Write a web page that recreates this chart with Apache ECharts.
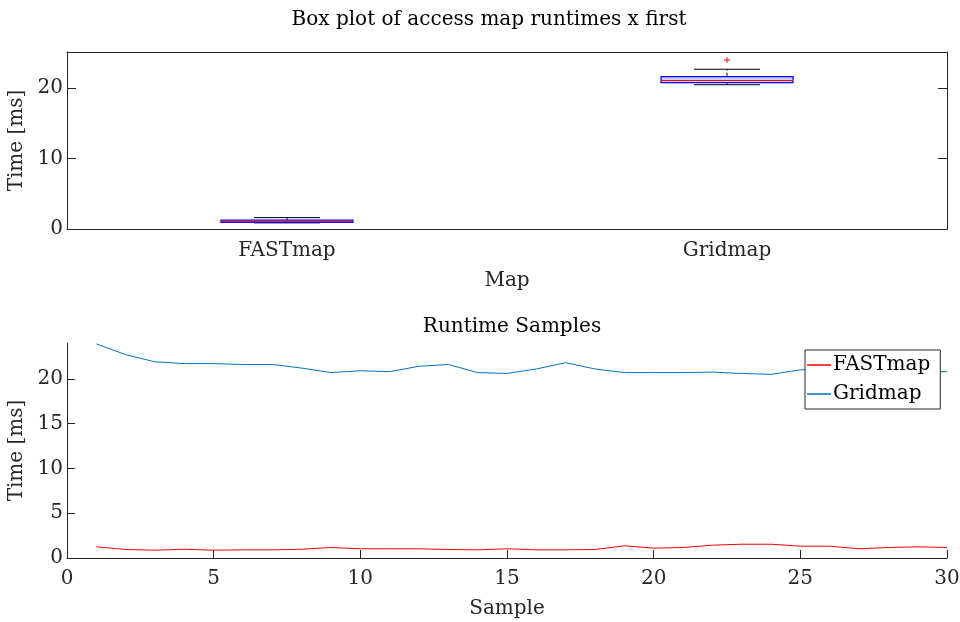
<!DOCTYPE html>
<html>
<head>
<meta charset="utf-8">
<script src="https://cdn.jsdelivr.net/npm/echarts@6/dist/echarts.min.js"></script>
<style>html,body{margin:0;padding:0;background:#fff}#c{width:960px;height:622px}</style>
</head>
<body>
<div id="c"></div>
<script>
// ---- data ----
var mapCategories = ['FASTmap', 'Gridmap'];
// box stats: [min, q1, median, q3, max]
var fastBox = [0.87, 0.95, 1.04, 1.26, 1.62];
var gridBox = [20.5, 20.8, 21.1, 21.65, 22.7];
var gridOutliers = [24.0];
var samples = [1,2,3,4,5,6,7,8,9,10,11,12,13,14,15,16,17,18,19,20,21,22,23,24,25,26,27,28,29,30];
var fastTimes = [1.25, 0.95, 0.87, 0.98, 0.87, 0.91, 0.91, 0.98, 1.17, 1.03, 1.03, 1.03, 0.95, 0.91, 1.03,
                 0.91, 0.91, 0.95, 1.36, 1.10, 1.17, 1.43, 1.54, 1.54, 1.32, 1.32, 1.03, 1.17, 1.25, 1.17];
var gridTimes = [23.9, 22.7, 21.9, 21.7, 21.7, 21.6, 21.6, 21.2, 20.7, 20.9, 20.8, 21.4, 21.6, 20.7, 20.6,
                 21.1, 21.8, 21.1, 20.7, 20.7, 20.7, 20.75, 20.6, 20.5, 21.0, 21.1, 21.0, 20.9, 20.8, 20.8];

var FONT = 'DejaVu Serif';
var AX = '#262626';
var FS = 20;

var boxData = [[0].concat(fastBox), [1].concat(gridBox)];
var outlierData = gridOutliers.map(function (v) { return [1, v]; });

function boxRender(params, api) {
  var ci = api.value(0);
  var vmin = api.value(1), q1 = api.value(2), med = api.value(3), q3 = api.value(4), vmax = api.value(5);
  var catW = api.size([1, 0])[0];
  var w = catW * 0.3;
  var cw = w / 2;
  var pMin = api.coord([ci, vmin]), pQ1 = api.coord([ci, q1]), pMed = api.coord([ci, med]),
      pQ3 = api.coord([ci, q3]), pMax = api.coord([ci, vmax]);
  var x = pMin[0];
  var blk = { stroke: '#000', lineWidth: 1 };
  return {
    type: 'group',
    children: [
      { type: 'line', shape: { x1: x, y1: pQ3[1], x2: x, y2: pMax[1] }, style: { stroke: '#000', lineWidth: 1, lineDash: [4, 2] } },
      { type: 'line', shape: { x1: x, y1: pQ1[1], x2: x, y2: pMin[1] }, style: { stroke: '#000', lineWidth: 1, lineDash: [4, 2] } },
      { type: 'line', shape: { x1: x - cw / 2, y1: pMax[1], x2: x + cw / 2, y2: pMax[1] }, style: blk },
      { type: 'line', shape: { x1: x - cw / 2, y1: pMin[1], x2: x + cw / 2, y2: pMin[1] }, style: blk },
      { type: 'rect', shape: { x: x - w / 2, y: pQ3[1], width: w, height: pQ1[1] - pQ3[1] },
        style: { fill: 'rgba(120,120,255,0.35)', stroke: '#0000ff', lineWidth: 1.2 } },
      { type: 'line', shape: { x1: x - w / 2, y1: pMed[1], x2: x + w / 2, y2: pMed[1] }, style: { stroke: '#ff0000', lineWidth: 1 } }
    ]
  };
}

var txt = { fontFamily: FONT, fontSize: FS, color: AX };

var chart = echarts.init(document.getElementById('c'), null, { renderer: 'canvas' });
chart.setOption({
  animation: false,
  backgroundColor: '#ffffff',
  title: [
    { text: 'Box plot of access map runtimes x first', left: 484, top: 5, textAlign: 'center',
      textStyle: { fontFamily: FONT, fontSize: FS, fontWeight: 'normal', color: '#000' } },
    { text: 'Runtime Samples', left: 507, top: 312, textAlign: 'center',
      textStyle: { fontFamily: FONT, fontSize: FS, fontWeight: 'normal', color: '#000' } }
  ],
  legend: {
    data: ['FASTmap', 'Gridmap'],
    orient: 'vertical',
    left: 805, top: 350,
    backgroundColor: '#fff',
    borderColor: AX, borderWidth: 1,
    padding: [5, 10, 5, 2],
    itemGap: 9,
    itemWidth: 24, itemHeight: 1.5,
    icon: 'rect',
    textStyle: { fontFamily: FONT, fontSize: FS, color: '#000', padding: [0, 0, 0, -3] }
  },
  grid: [
    { left: 67, right: 13, top: 52, height: 177, containLabel: false, outerBoundsMode: 'none' },
    { left: 67, right: 13, top: 343, height: 215, containLabel: false, outerBoundsMode: 'none' }
  ],
  xAxis: [
    { type: 'category', gridIndex: 0, data: mapCategories, boundaryGap: true,
      name: 'Map', nameLocation: 'middle', nameGap: 42, nameTextStyle: txt,
      axisLine: { lineStyle: { color: AX } },
      axisTick: { inside: true, alignWithLabel: true, length: 8, lineStyle: { color: AX } },
      axisLabel: Object.assign({ margin: 12 }, txt), splitLine: { show: false } },
    { type: 'category', gridIndex: 0, data: mapCategories, boundaryGap: true, position: 'top',
      axisLine: { onZero: false, lineStyle: { color: AX } },
      axisTick: { inside: true, alignWithLabel: true, length: 8, lineStyle: { color: AX } },
      axisLabel: { show: false }, splitLine: { show: false } },
    { type: 'value', gridIndex: 1, min: 0, max: 30, interval: 5,
      name: 'Sample', nameLocation: 'middle', nameGap: 41, nameTextStyle: txt,
      axisLine: { onZero: false, lineStyle: { color: AX } },
      axisTick: { inside: true, length: 8, lineStyle: { color: AX } },
      axisLabel: Object.assign({ margin: 11 }, txt), splitLine: { show: false } }
  ],
  yAxis: [
    { type: 'value', gridIndex: 0, min: 0, max: 25.15, interval: 10,
      name: 'Time [ms]', nameLocation: 'middle', nameGap: 33, nameRotate: 90, nameTextStyle: txt,
      axisLine: { show: true, lineStyle: { color: AX } },
      axisTick: { show: true, inside: true, length: 9, lineStyle: { color: AX } },
      axisLabel: Object.assign({ margin: 4, showMaxLabel: false }, txt), splitLine: { show: false } },
    { type: 'value', gridIndex: 0, min: 0, max: 25.15, interval: 10, position: 'right',
      axisLine: { show: true, lineStyle: { color: AX } },
      axisTick: { show: true, inside: true, length: 9, lineStyle: { color: AX } },
      axisLabel: { show: false }, splitLine: { show: false } },
    { type: 'value', gridIndex: 1, min: 0, max: 24, interval: 5,
      name: 'Time [ms]', nameLocation: 'middle', nameGap: 33, nameRotate: 90, nameTextStyle: txt,
      axisLine: { show: true, onZero: false, lineStyle: { color: AX } },
      axisTick: { show: true, inside: true, length: 8, lineStyle: { color: AX } },
      axisLabel: Object.assign({ margin: 4, showMaxLabel: false }, txt), splitLine: { show: false } }
  ],
  series: [
    { type: 'custom', xAxisIndex: 0, yAxisIndex: 0, data: boxData,
      encode: { x: 0, y: [1, 2, 3, 4, 5] }, renderItem: boxRender, silent: true, z: 3 },
    { type: 'scatter', xAxisIndex: 0, yAxisIndex: 0, data: outlierData,
      symbol: 'path://M0,5L10,5M5,0L5,10', symbolSize: 6,
      itemStyle: { color: 'none', borderColor: '#ff0000', borderWidth: 1.2 }, z: 4 },
    { name: 'FASTmap', type: 'line', xAxisIndex: 2, yAxisIndex: 2,
      data: samples.map(function (s, i) { return [s, fastTimes[i]]; }),
      showSymbol: false, symbol: 'none', lineStyle: { color: '#ff0000', width: 1 }, itemStyle: { color: '#ff0000' } },
    { name: 'Gridmap', type: 'line', xAxisIndex: 2, yAxisIndex: 2,
      data: samples.map(function (s, i) { return [s, gridTimes[i]]; }),
      showSymbol: false, symbol: 'none', lineStyle: { color: '#0072BD', width: 1 }, itemStyle: { color: '#0072BD' } }
  ]
});
</script>
</body>
</html>
